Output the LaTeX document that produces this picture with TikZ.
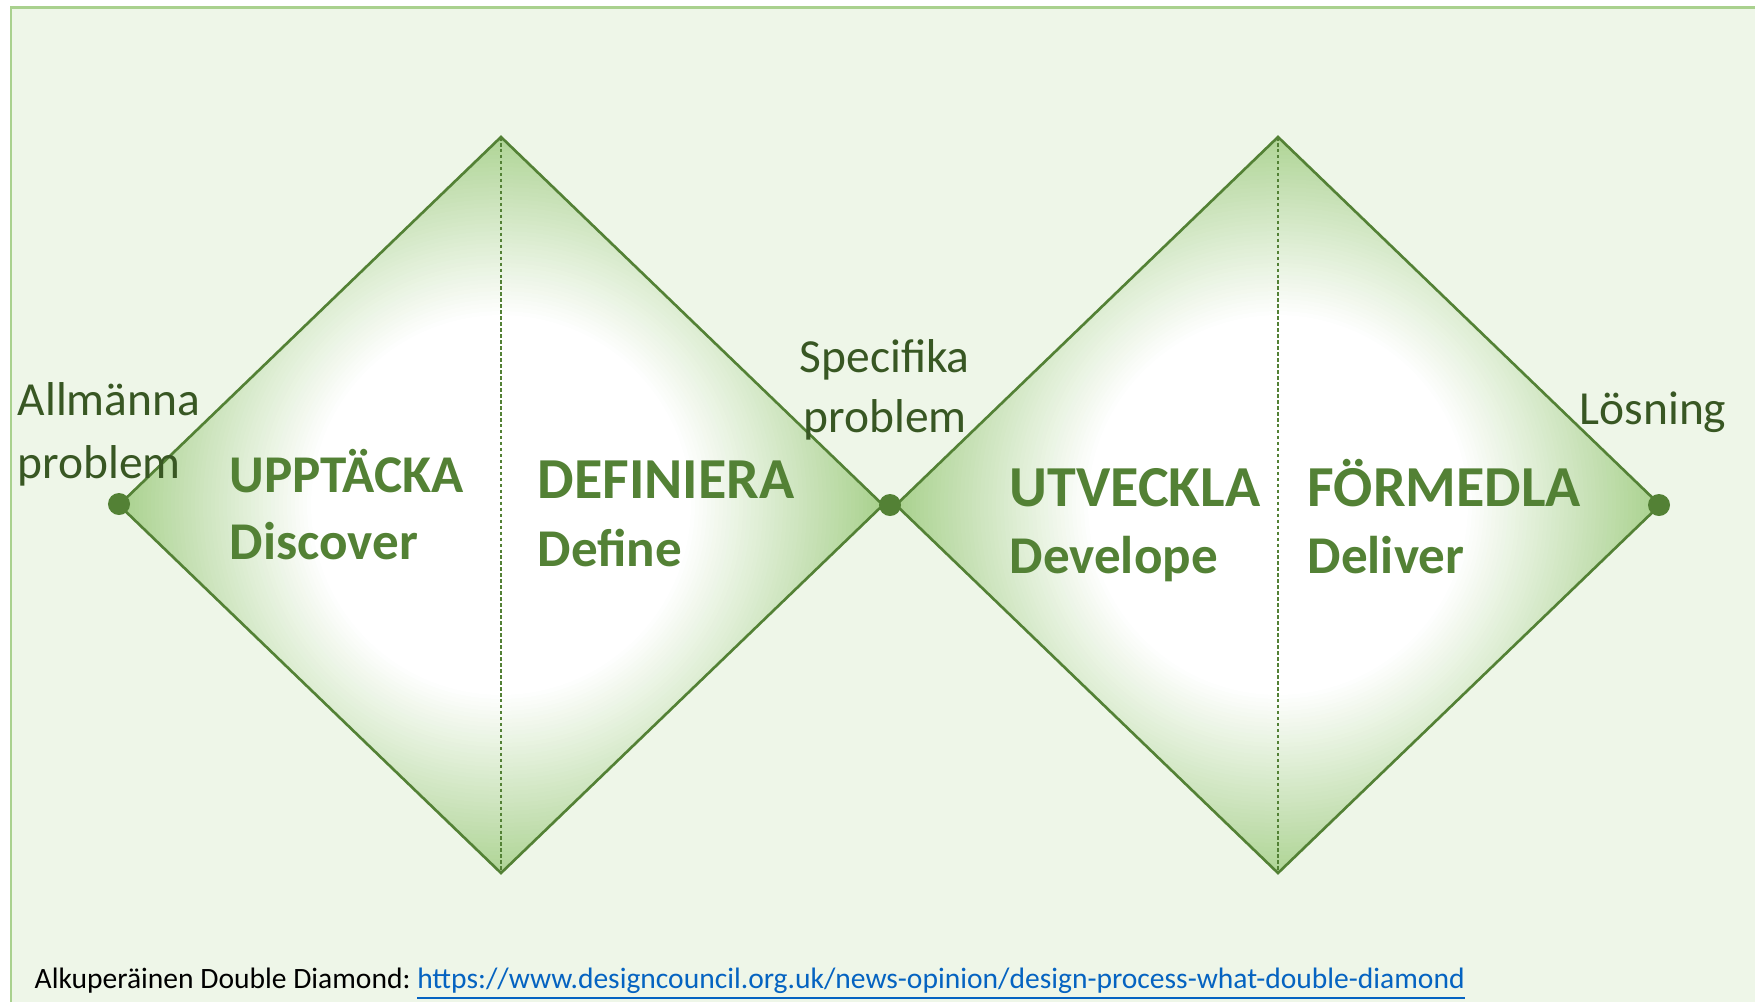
\documentclass[tikz,border=0pt]{standalone}
\usepackage{fontspec}
\setmainfont{Carlito}
\usepackage{tikz}

\definecolor{ddline}{HTML}{538135}
\definecolor{ddlabel}{HTML}{385723}
\definecolor{ddfill}{HTML}{A9D18E}
\definecolor{ddlink}{HTML}{0563C1}

\tikzset{
  ddedge/.style={draw=ddline, line width=0.75pt},
  split/.style={ddline, line width=0.35pt, dash pattern=on 1pt off 0.7pt},
  dot/.style={circle, fill=ddline, inner sep=0pt, minimum size=0.22cm},
  head/.style={anchor=base west, inner sep=0pt, text=ddline,
    font=\fontsize{16.5}{20}\selectfont\bfseries},
  sub/.style={head, font=\fontsize{15.1}{18}\selectfont\bfseries},
  lbl/.style={anchor=base west, inner sep=0pt, text=ddlabel,
    font=\fontsize{13.5}{16}\selectfont},
}

\begin{document}
\begin{tikzpicture}[x=0.01cm,y=-0.01cm]
  \useasboundingbox (0,0) rectangle (1755,1002);
  % frame
  \fill[ddfill!20] (11,7) rectangle (1755,1002);
  \draw[ddfill, line width=0.85pt] (11,1002) -- (11,7) -- (1755,7);

  % the two diamonds, white in the middle and green towards the corners
  \foreach \cx [count=\i] in {501,1278} {
    \coordinate (w\i) at (\cx-382,505);
    \coordinate (n\i) at (\cx,137);
    \coordinate (e\i) at (\cx+382,505);
    \coordinate (s\i) at (\cx,873);
    \begin{scope}
      \clip (w\i) -- (n\i) -- (e\i) -- (s\i) -- cycle;
      \foreach \r in {390,386,...,190} {
        \pgfmathsetmacro\pct{min(100,max(0,(\r-190)/1.92))}
        \fill[ddfill!\pct!white] (\cx,505) circle (\r);
      }
    \end{scope}
    \draw[split] (n\i) -- (s\i);
    \draw[ddedge] (w\i) -- (n\i) -- (e\i) -- (s\i) -- cycle;
  }
  \node[dot] (start) at (119,504) {};
  \node[dot] (mid) at (890,505) {};
  \node[dot] (goal) at (1659,505) {};

  % phases
  \node[sub] (upptacka) at (229,492) {UPPTÄCKA};
  \node[sub] (discover) at (229,559) {Discover};
  \node[head] (definiera) at (537,498) {DEFINIERA};
  \node[sub] (define) at (537,566) {Define};
  \node[head] (utveckla) at (1009,506) {UTVECKLA};
  \node[sub] (develope) at (1009,573) {Develope};
  \node[head] (formedla) at (1307,506) {FÖRMEDLA};
  \node[sub] (deliver) at (1307,573) {Deliver};

  % states
  \node[lbl] (allm) at (17,415) {Allmänna};
  \node[lbl] (allmprob) at (17,478) {problem};
  \node[lbl] (spec) at (799,372) {Specifika};
  \node[lbl] (specprob) at (803,432) {problem};
  \node[lbl] (losning) at (1579,424) {Lösning};

  % source
  \node[anchor=base west, inner sep=0pt, font=\fontsize{8.4}{10}\selectfont\frenchspacing] (source) at (34,988)
    {Alkuperäinen Double Diamond: \textcolor{ddlink}{\underline{https://www.designcouncil.org.uk/news-opinion/design-process-what-double-diamond}}};
\end{tikzpicture}
\end{document}
